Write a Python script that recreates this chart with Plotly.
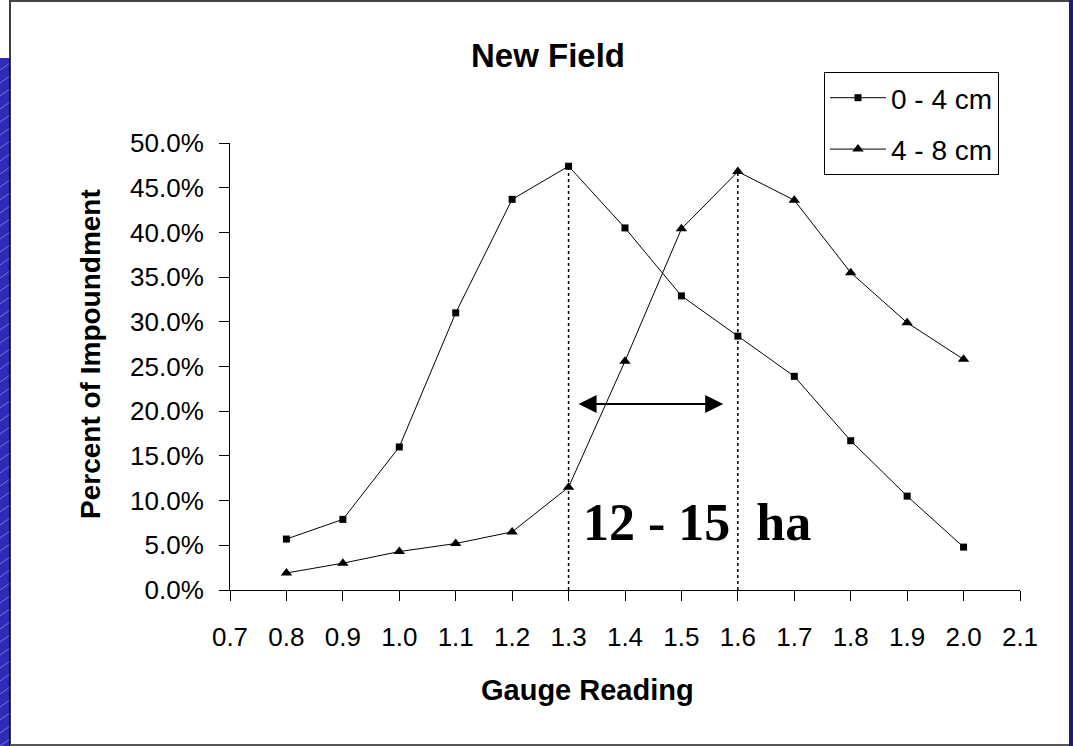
import plotly.graph_objects as go

gauge = [0.8, 0.9, 1.0, 1.1, 1.2, 1.3, 1.4, 1.5, 1.6, 1.7, 1.8, 1.9, 2.0]
depth_0_4 = [0.057, 0.079, 0.160, 0.310, 0.437, 0.474, 0.405, 0.329, 0.284, 0.239, 0.167, 0.105, 0.048]
depth_4_8 = [0.019, 0.030, 0.043, 0.052, 0.065, 0.115, 0.256, 0.404, 0.468, 0.436, 0.355, 0.299, 0.258]
series_names = ["0 - 4 cm", "4 - 8 cm"]
peak_x = [1.3, 1.6]
arrow_span = [1.315, 1.574]
arrow_y = 0.208
area_label = "12 - 15\u00a0\u00a0ha"
chart_title = "New Field"
x_title = "Gauge Reading"
y_title = "Percent of Impoundment"

FONT = "Arial, 'Liberation Sans', sans-serif"


def px2x(p):
    return (p - 230) / 790.0


def py2y(p):
    return (590 - p) / 447.0


fig = go.Figure()
fig.add_trace(go.Scatter(x=gauge, y=depth_0_4, mode="lines+markers", name=series_names[0],
                         legendgroup="a",
                         line=dict(color="black", width=1),
                         marker=dict(symbol="square", size=7, color="black")))
fig.add_trace(go.Scatter(x=gauge, y=depth_4_8, mode="lines+markers", name=series_names[1],
                         legendgroup="b",
                         line=dict(color="black", width=1),
                         marker=dict(symbol="triangle-up", size=10, color="black")))

# dotted vertical lines at peaks
peaks = [max(depth_0_4), max(depth_4_8)]
for px, py in zip(peak_x, peaks):
    fig.add_shape(type="line", x0=px, x1=px, y0=0, y1=py, xref="x", yref="y",
                  line=dict(color="black", width=1.5, dash="dot"))

# double-headed arrow
fig.add_annotation(x=arrow_span[1], y=arrow_y, ax=arrow_span[0], ay=arrow_y,
                   xref="x", yref="y", axref="x", ayref="y", text="",
                   showarrow=True, arrowhead=2, arrowside="end+start",
                   arrowsize=1.8, arrowwidth=2, arrowcolor="black")

fig.add_annotation(x=1.527, y=0.075, xref="x", yref="y", text="<b>" + area_label + "</b>",
                   showarrow=False, font=dict(family="'Times New Roman', 'Liberation Serif', serif",
                                              size=52, color="black"))

# axis titles
fig.add_annotation(x=px2x(587), y=py2y(690), xref="paper", yref="paper", showarrow=False,
                   xanchor="center", yanchor="middle", text="<b>" + x_title + "</b>",
                   font=dict(family=FONT, size=29, color="black"))
fig.add_annotation(x=px2x(90), y=py2y(354), xref="paper", yref="paper", showarrow=False,
                   xanchor="center", yanchor="middle", textangle=-90, text="<b>" + y_title + "</b>",
                   font=dict(family=FONT, size=28, color="black"))

# page decorations (frame)
fig.add_shape(type="rect", xref="paper", yref="paper", x0=px2x(0), x1=px2x(10),
              y0=py2y(746), y1=py2y(58), fillcolor="#2d2bb8", line=dict(width=0), layer="below")
hatch = ""
for k in range(0, 680, 13):
    y0 = 746 - k
    hatch += "M {:.5f},{:.5f} L {:.5f},{:.5f} ".format(px2x(0), py2y(y0), px2x(10), py2y(y0 - 7))
fig.add_shape(type="path", xref="paper", yref="paper", path=hatch,
              line=dict(color="rgba(200,200,255,0.45)", width=1), layer="below")
fig.add_shape(type="rect", xref="paper", yref="paper", x0=px2x(0), x1=px2x(10),
              y0=py2y(58), y1=py2y(0), fillcolor="white", line=dict(width=0), layer="below")
fig.add_shape(type="rect", xref="paper", yref="paper", x0=px2x(1069), x1=px2x(1073),
              y0=py2y(746), y1=py2y(0), fillcolor="#1c1c70", line=dict(width=0), layer="below")
fig.add_shape(type="line", xref="paper", yref="paper", x0=px2x(10), x1=px2x(10),
              y0=py2y(746), y1=py2y(0), line=dict(color="black", width=1.5))
fig.add_shape(type="line", xref="paper", yref="paper", x0=px2x(10), x1=px2x(1069),
              y0=py2y(1), y1=py2y(1), line=dict(color="#444444", width=2))
fig.add_shape(type="line", xref="paper", yref="paper", x0=px2x(10), x1=px2x(1069),
              y0=py2y(745), y1=py2y(745), line=dict(color="#555555", width=2))

fig.update_layout(
    width=1073, height=746,
    margin=dict(l=230, r=53, t=143, b=156),
    paper_bgcolor="white", plot_bgcolor="white",
    font=dict(family=FONT, color="black", size=26),
    title=dict(text="<b>" + chart_title + "</b>", x=548 / 1073, xref="container", xanchor="center",
               y=1 - 55 / 746, yref="container", yanchor="middle",
               font=dict(family=FONT, size=33, color="black")),
    showlegend=True,
    legend=dict(x=px2x(824), y=py2y(72), xref="paper", yref="paper", xanchor="left", yanchor="top",
                bgcolor="white", bordercolor="black", borderwidth=1,
                font=dict(family=FONT, size=28, color="black"), itemwidth=56,
                tracegroupgap=12),
    xaxis=dict(range=[0.7, 2.1], dtick=0.1, tick0=0.7, tickformat=".1f",
               showgrid=False, zeroline=False, showline=True, linecolor="black", linewidth=1,
               ticks="outside", ticklen=10, tickcolor="black", ticklabelstandoff=14,
               tickfont=dict(family=FONT, size=26)),
    yaxis=dict(range=[0, 0.5], dtick=0.05, tickformat=".1%",
               showgrid=False, zeroline=False, showline=True, linecolor="black", linewidth=1,
               ticks="outside", ticklen=10, tickcolor="black", ticklabelstandoff=10,
               tickfont=dict(family=FONT, size=26)),
)

fig.write_html("out.html", config={"displayModeBar": False},
               post_script="document.body.style.margin='0';document.body.style.overflow='hidden';")
